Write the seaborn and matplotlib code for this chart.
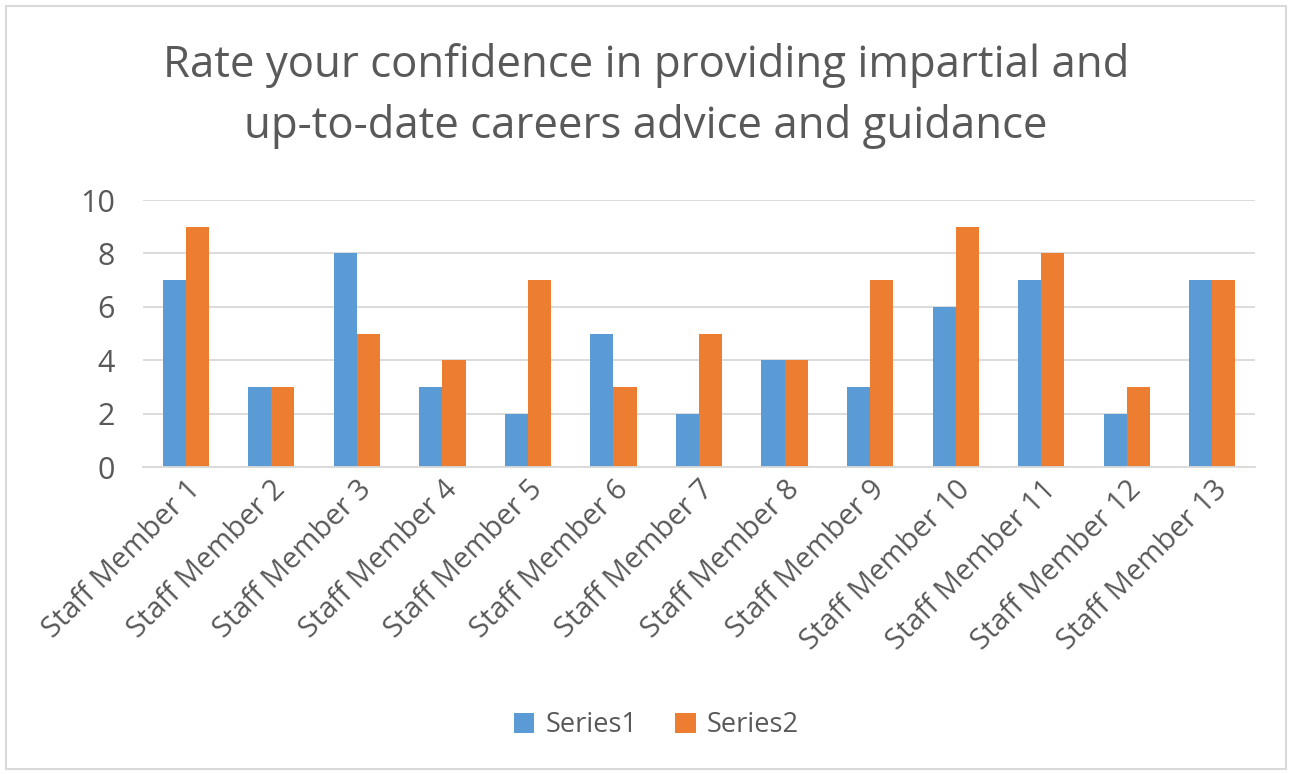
import matplotlib
matplotlib.use("Agg")
import matplotlib.pyplot as plt
import seaborn as sns
import pandas as pd
from matplotlib.patches import Rectangle

categories = [f"Staff Member {i}" for i in range(1, 14)]
series1 = [7, 3, 8, 3, 2, 5, 2, 4, 3, 6, 7, 2, 7]
series2 = [9, 3, 5, 4, 7, 3, 5, 4, 7, 9, 8, 3, 7]
series_names = ["Series1", "Series2"]
title = "Rate your confidence in providing impartial and\nup-to-date careers advice and guidance"

sns.set_theme(style="white")
plt.rcParams['font.family'] = ['Open Sans', 'DejaVu Sans']

df = pd.DataFrame({
    "category": categories * 2,
    "value": series1 + series2,
    "series": [series_names[0]] * len(categories) + [series_names[1]] * len(categories),
})

text_color = "#595959"
fig = plt.figure(figsize=(12.92, 7.74), dpi=100)
ax = fig.add_axes([0.1107, 0.3966, 0.8607, 0.345])

sns.barplot(data=df, x="category", y="value", hue="series",
            palette=["#5B9BD5", "#ED7D31"], width=0.54, gap=0,
            saturation=1, ax=ax, legend=True, edgecolor="none")

ax.set_ylim(0, 10)
ax.set_yticks([0, 2, 4, 6, 8, 10])
ax.set_xlim(-0.5, len(categories) - 0.5)
ax.yaxis.grid(True, color="#D9D9D9", linewidth=1.3)
ax.set_axisbelow(True)
for s in ["top", "right", "left"]:
    ax.spines[s].set_visible(False)
ax.spines["bottom"].set_color("#D9D9D9")
ax.spines["bottom"].set_linewidth(1.3)
ax.set_xlabel("")
ax.set_ylabel("")
ax.tick_params(axis="both", length=0, colors=text_color, labelsize=21)
ax.tick_params(axis="y", labelsize=22, pad=20)
ax.tick_params(axis="x", pad=6)
plt.setp(ax.get_xticklabels(), rotation=45, ha="right", rotation_mode="anchor")

handles, labels = ax.get_legend_handles_labels()
ax.legend_.remove()
fig.legend(handles, labels, loc="center", bbox_to_anchor=(0.508, 0.063), ncol=2,
           frameon=False, fontsize=19.5, labelcolor=text_color,
           handlelength=0.75, handleheight=0.75, columnspacing=1.4, handletextpad=0.4)

fig.text(0.5, 0.876, title, ha="center", va="center", fontsize=31.5,
         color=text_color, linespacing=1.45)

fig.patches.append(Rectangle((0.005, 0.006), 0.99, 0.986, transform=fig.transFigure,
                             fill=False, edgecolor="#D9D9D9", linewidth=1.5))

fig.savefig("out.png", dpi=100)
